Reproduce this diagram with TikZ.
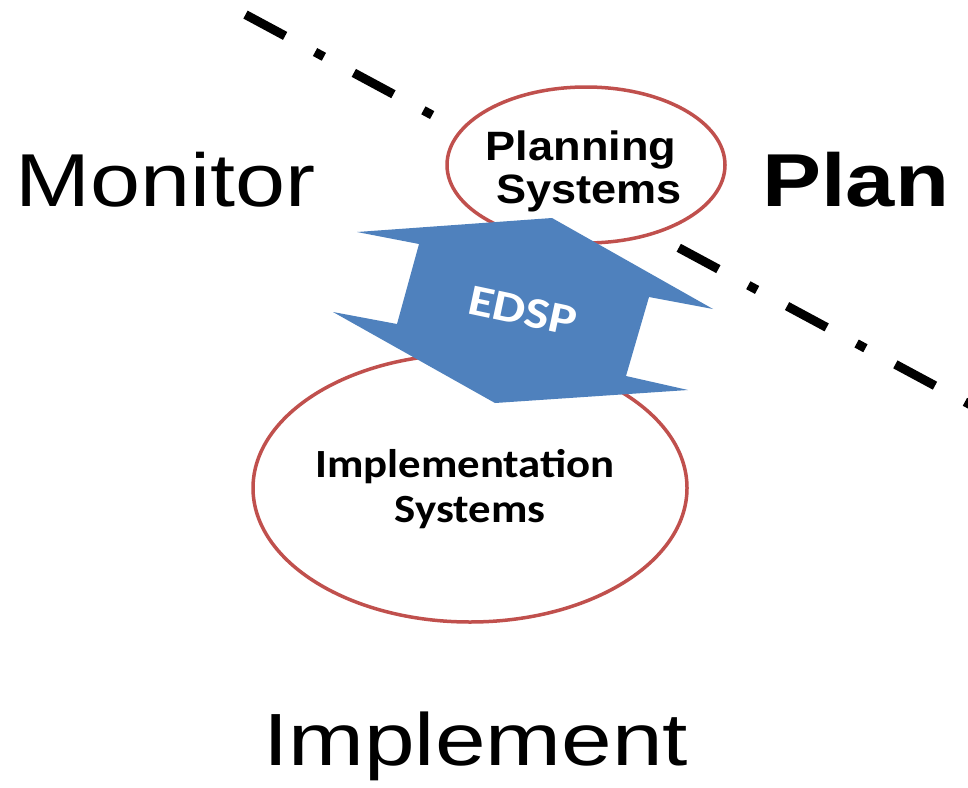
\documentclass[tikz,border=0pt]{standalone}
\usepackage{fontspec}
\setmainfont{Liberation Sans}
\newfontfamily\calibfont{Carlito}
\usetikzlibrary{shapes.geometric}
\definecolor{ered}{HTML}{C0504D}
\definecolor{eblue}{HTML}{4F81BD}
\begin{document}
\begin{tikzpicture}[x=1pt,y=-1pt,
  sysell/.style={ellipse, draw=ered, line width=3.5pt, fill=white, inner sep=0pt},
  bigword/.style={font=\fontsize{75}{80}\selectfont, anchor=base west, inner sep=0pt},
  plantext/.style={font=\fontsize{41}{44}\selectfont\bfseries, xscale=1.1, anchor=base, inner sep=0pt},
  impltext/.style={font=\fontsize{40}{44}\calibfont\bfseries, xscale=1.12, anchor=base, inner sep=0pt},
  divider/.style={line width=9pt, dash pattern=on 45pt off 34pt on 10pt off 34pt}
]
\useasboundingbox (0,0) rectangle (968,787);
\clip (0,0) rectangle (968,787);

% dash-dot divider
\coordinate (dl1) at (245.5,14.6);
\coordinate (dl2) at (995,418);
\draw[divider] (dl1) -- (dl2);

% ellipses
\node[sysell, minimum width=278pt, minimum height=156pt] (plansys) at (586,165) {};
\node[sysell, minimum width=434pt, minimum height=268pt] (implsys) at (470,488) {};

% double arrow
\fill[eblue] (357,232) -- (419,244) -- (397,324) -- (333,312) -- (495,403)
  -- (688,390) -- (626,376) -- (649,297) -- (713,309) -- (552,218) -- cycle;
\node[font=\fontsize{44}{48}\calibfont\bfseries, text=white, rotate=-12, xscale=1.18, inner sep=0pt] (edsp) at (523,311) {EDSP};

% texts in ellipses
\node[plantext] (plan1) at (581,160) {Planning};
\node[plantext] (plan2) at (589,203) {Systems};
\node[impltext] (impl1) at (465,477) {Implementation};
\node[impltext] (impl2) at (470,522) {Systems};

% big words
\node[bigword, xscale=1.2] (monitor) at (15,206) {Monitor};
\node[bigword, xscale=1.18, font=\fontsize{75}{80}\selectfont\bfseries] (plan) at (762,206) {Plan};
\node[bigword, xscale=1.23, font=\fontsize{74}{80}\selectfont] (implement) at (263,765) {Implement};
\end{tikzpicture}
\end{document}
